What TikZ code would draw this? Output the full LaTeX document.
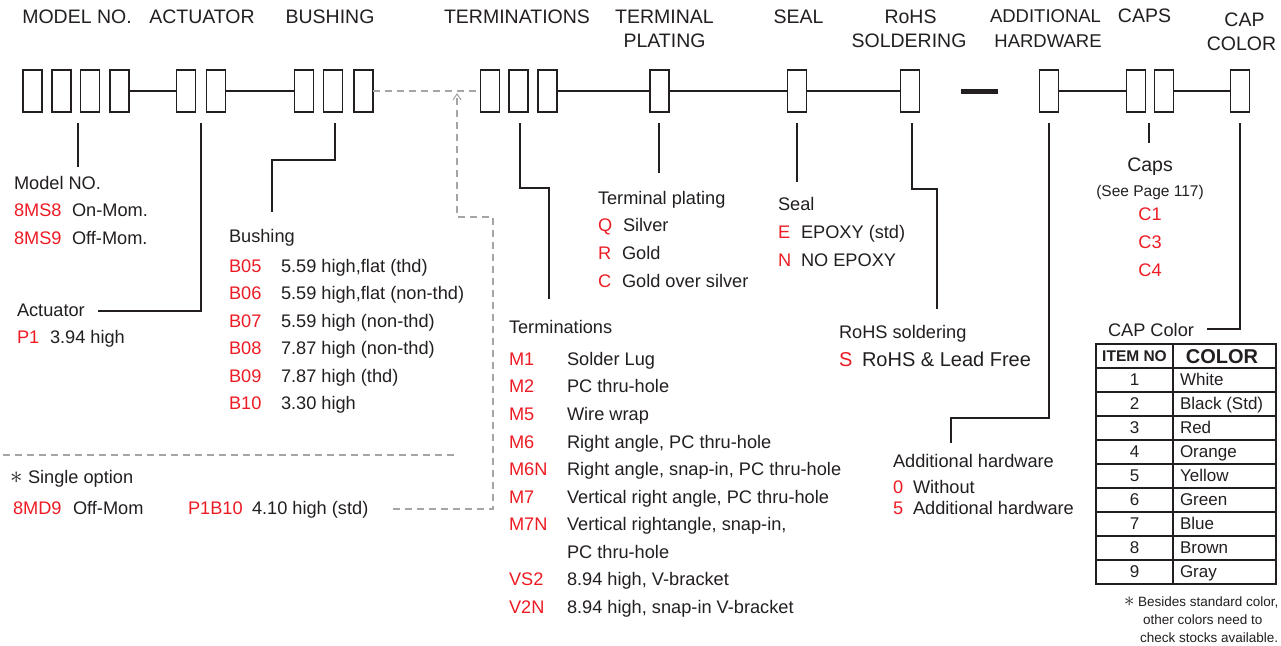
\documentclass[tikz,border=0pt]{standalone}
\usepackage{fontspec}
\setmainfont{Liberation Sans}
\usetikzlibrary{arrows.meta}
\definecolor{ink}{RGB}{35,31,32}
\definecolor{codered}{RGB}{237,28,36}
\definecolor{guidegray}{RGB}{165,165,165}
\begin{document}
\begin{tikzpicture}[x=1pt,y=-1pt,
  every node/.style={inner sep=0pt, outer sep=0pt, text=ink},
  cell/.style={draw=ink, line width=1.8pt, minimum width=19pt, minimum height=42pt},
  link/.style={draw=ink, line width=1.8pt},
  guide/.style={draw=guidegray, line width=1.2pt, dash pattern=on 7pt off 5pt},
  hdr/.style={anchor=base, font=\fontsize{19.5}{21}\selectfont},
  hdrn/.style={anchor=base, font=\fontsize{18.5}{20}\selectfont},
  lbl/.style={anchor=base west, font=\fontsize{18.2}{20}\selectfont},
  code/.style={lbl, text=codered},
  cen/.style={anchor=base, font=\fontsize{18.2}{20}\selectfont},
  big/.style={anchor=base west, font=\fontsize{20}{22}\selectfont},
  note/.style={anchor=base west, font=\fontsize{13.5}{15}\selectfont},
  tline/.style={draw=ink, line width=1.4pt},
  tframe/.style={draw=ink, line width=2pt},
]
\useasboundingbox[fill=white] (0,0) rectangle (1281,645);

% ---------------- headers ----------------
\node[hdr] (hModel) at (77,23) {MODEL NO.};
\node[hdr] (hAct) at (202,23) {ACTUATOR};
\node[hdr] (hBush) at (330,23) {BUSHING};
\node[hdr] (hTerm) at (517,23) {TERMINATIONS};
\node[hdr] (hPlat1) at (664.5,23) {TERMINAL};
\node[hdr] (hPlat2) at (664.5,47) {PLATING};
\node[hdr] (hSeal) at (798.5,23) {SEAL};
\node[hdr] (hRohs1) at (910.5,23) {RoHS};
\node[hdr] (hRohs2) at (909,47) {SOLDERING};
\node[hdrn] (hAdd1) at (1045.5,22) {ADDITIONAL};
\node[hdrn] (hAdd2) at (1048,47) {HARDWARE};
\node[hdr] (hCaps) at (1144.5,22) {CAPS};
\node[hdr] (hCc1) at (1244.5,27) {CAP};
\node[hdr] (hCc2) at (1241.5,50) {COLOR};

% ---------------- code boxes ----------------
\node[cell] (m1) at (32.5,91) {};
\node[cell] (m2) at (61.5,91) {};
\node[cell] (m3) at (90,91) {};
\node[cell] (m4) at (119.5,91) {};
\node[cell] (a1) at (186,91) {};
\node[cell] (a2) at (216,91) {};
\node[cell] (b1) at (304,91) {};
\node[cell] (b2) at (333,91) {};
\node[cell] (b3) at (363.5,91) {};
\node[cell] (t1) at (490,91) {};
\node[cell] (t2) at (518.5,91) {};
\node[cell] (t3) at (547.5,91) {};
\node[cell] (tp) at (659.5,91) {};
\node[cell] (sl) at (797,91) {};
\node[cell] (rh) at (910,91) {};
\node[fill=ink, minimum width=37pt, minimum height=5pt] (dash) at (979.5,91) {};
\node[cell] (ad) at (1049,91) {};
\node[cell] (c1) at (1136,91) {};
\node[cell] (c2) at (1164,91) {};
\node[cell] (cc) at (1240,91) {};

\draw[link] (m4.east) -- (a1.west);
\draw[link] (a2.east) -- (b1.west);
\draw[guide] (b3.east) -- (t1.west);
\draw[link] (t3.east) -- (tp.west);
\draw[link] (tp.east) -- (sl.west);
\draw[link] (sl.east) -- (rh.west);
\draw[link] (ad.east) -- (c1.west);
\draw[link] (c2.east) -- (cc.west);

% ---------------- leader lines ----------------
\coordinate (mdA) at (78,123);   \coordinate (mdB) at (78,167);
\draw[link] (mdA) -- (mdB);
\coordinate (acA) at (201,123);  \coordinate (acB) at (98,311);
\draw[link] (acA) |- (acB);
\coordinate (buA) at (335,123);  \coordinate (buB) at (272,160); \coordinate (buC) at (272,212);
\draw[link] (buA) |- (buB) -- (buC);
\coordinate (teA) at (520,123);  \coordinate (teB) at (549,188); \coordinate (teC) at (549,299);
\draw[link] (teA) |- (teB) -- (teC);
\coordinate (tpA) at (659,123);  \coordinate (tpB) at (659,173);
\draw[link] (tpA) -- (tpB);
\coordinate (slA) at (797,123);  \coordinate (slB) at (797,182);
\draw[link] (slA) -- (slB);
\coordinate (rhA) at (912,123);  \coordinate (rhB) at (937,189); \coordinate (rhC) at (937,309);
\draw[link] (rhA) |- (rhB) -- (rhC);
\coordinate (adA) at (1049,123); \coordinate (adB) at (951,418); \coordinate (adC) at (951,443);
\draw[link] (adA) |- (adB) -- (adC);
\coordinate (cpA) at (1149,123); \coordinate (cpB) at (1149,143);
\draw[link] (cpA) -- (cpB);
\coordinate (ccA) at (1240,123); \coordinate (ccB) at (1207,329);
\draw[link] (ccA) |- (ccB);

% single-option guide
\coordinate (gA) at (393,509);
\coordinate (gB) at (493,217);
\coordinate (gTip) at (457,93);
\draw[guide, -{Straight Barb[length=6pt,width=8pt,line width=1.1pt]}] (gA) -| (gB) -| (gTip);
\coordinate (sepL) at (3,455); \coordinate (sepR) at (455,455);
\draw[guide] (sepL) -- (sepR);

% ---------------- Model NO. ----------------
\node[lbl] (mdT) at (14,189) {Model NO.};
\node[code] (mdC1) at (14,216) {8MS8};
\node[lbl] (mdD1) at (72,216) {On-Mom.};
\node[code] (mdC2) at (14,244) {8MS9};
\node[lbl] (mdD2) at (72,244) {Off-Mom.};

% ---------------- Actuator ----------------
\node[lbl] (acT) at (17,316) {Actuator};
\node[code] (acC1) at (17,343) {P1};
\node[lbl] (acD1) at (50,343) {3.94 high};

% ---------------- Bushing ----------------
\node[lbl] (buT) at (229,242) {Bushing};
\node[code] (buC1) at (229,272) {B05};   \node[lbl] (buD1) at (281,272) {5.59 high,flat (thd)};
\node[code] (buC2) at (229,299.5) {B06}; \node[lbl] (buD2) at (281,299.5) {5.59 high,flat (non-thd)};
\node[code] (buC3) at (229,327) {B07};   \node[lbl] (buD3) at (281,327) {5.59 high (non-thd)};
\node[code] (buC4) at (229,354.5) {B08}; \node[lbl] (buD4) at (281,354.5) {7.87 high (non-thd)};
\node[code] (buC5) at (229,382) {B09};   \node[lbl] (buD5) at (281,382) {7.87 high (thd)};
\node[code] (buC6) at (229,409.5) {B10}; \node[lbl] (buD6) at (281,409.5) {3.30 high};

% ---------------- Single option ----------------
\node[anchor=base west, font=\fontsize{26}{26}\selectfont] (soA) at (10,483) {$\ast$};
\node[lbl] (soT) at (28,483) {Single option};
\node[code] (soC1) at (13,514) {8MD9};
\node[lbl] (soD1) at (73,514) {Off-Mom};
\node[code] (soC2) at (188,514) {P1B10};
\node[lbl] (soD2) at (252,514) {4.10 high (std)};

% ---------------- Terminal plating ----------------
\node[lbl] (tpT) at (598,204) {Terminal plating};
\node[code] (tpC1) at (598,231) {Q}; \node[lbl] (tpD1) at (623,231) {Silver};
\node[code] (tpC2) at (598,259) {R}; \node[lbl] (tpD2) at (622,259) {Gold};
\node[code] (tpC3) at (598,287) {C}; \node[lbl] (tpD3) at (622,287) {Gold over silver};

% ---------------- Seal ----------------
\node[lbl] (slT) at (778,210) {Seal};
\node[code] (slC1) at (778,238) {E}; \node[lbl] (slD1) at (801,238) {EPOXY (std)};
\node[code] (slC2) at (778,266) {N}; \node[lbl] (slD2) at (801,266) {NO EPOXY};

% ---------------- Terminations ----------------
\node[lbl] (teT) at (509,333) {Terminations};
\node[code] (teC1) at (509,365) {M1};  \node[lbl] (teD1) at (567,365) {Solder Lug};
\node[code] (teC2) at (509,392) {M2};  \node[lbl] (teD2) at (567,392) {PC thru-hole};
\node[code] (teC3) at (509,420) {M5};  \node[lbl] (teD3) at (567,420) {Wire wrap};
\node[code] (teC4) at (509,448) {M6};  \node[lbl] (teD4) at (567,448) {Right angle, PC thru-hole};
\node[code] (teC5) at (509,475) {M6N}; \node[lbl] (teD5) at (567,475) {Right angle, snap-in, PC thru-hole};
\node[code] (teC6) at (509,503) {M7};  \node[lbl] (teD6) at (567,503) {Vertical right angle, PC thru-hole};
\node[code] (teC7) at (509,530) {M7N}; \node[lbl] (teD7) at (567,530) {Vertical rightangle, snap-in,};
\node[lbl] (teD7b) at (567,558) {PC thru-hole};
\node[code] (teC8) at (509,585) {VS2}; \node[lbl] (teD8) at (567,585) {8.94 high, V-bracket};
\node[code] (teC9) at (509,613) {V2N}; \node[lbl] (teD9) at (567,613) {8.94 high, snap-in V-bracket};

% ---------------- RoHS ----------------
\node[lbl] (rhT) at (839,338) {RoHS soldering};
\node[big, text=codered] (rhC1) at (839,366) {S};
\node[big] (rhD1) at (862,366) {RoHS \& Lead Free};

% ---------------- Additional hardware ----------------
\node[lbl] (adT) at (893,467) {Additional hardware};
\node[code] (adC1) at (893,493) {0}; \node[lbl] (adD1) at (913,493) {Without};
\node[code] (adC2) at (893,514) {5}; \node[lbl] (adD2) at (913,514) {Additional hardware};

% ---------------- Caps ----------------
\node[anchor=base, font=\fontsize{19.5}{21}\selectfont] (cpT) at (1150,171) {Caps};
\node[anchor=base, font=\fontsize{15.5}{17}\selectfont] (cpS) at (1150,196) {(See Page 117)};
\node[cen, text=codered] (cpC1) at (1150,220) {C1};
\node[cen, text=codered] (cpC2) at (1150,248) {C3};
\node[cen, text=codered] (cpC3) at (1150,276) {C4};

% ---------------- CAP Color table ----------------
\node[lbl] (ccT) at (1108,336) {CAP Color};
\coordinate (tbTL) at (1096,344);
\coordinate (tbBR) at (1276,584);
\foreach \r in {368,392,...,560} {\draw[tline] (1096,\r) -- (1276,\r);}
\draw[tline] (1173,344) -- (1173,584);
\draw[tframe] (tbTL) rectangle (tbBR);
\node[anchor=base, font=\bfseries\fontsize{15.5}{17}\selectfont] (thA) at (1134.5,361.5) {ITEM NO};
\node[anchor=base, font=\bfseries\fontsize{20}{22}\selectfont] (thB) at (1222,363.5) {COLOR};
\foreach \n/\c [count=\k from 0] in {1/White,2/Black (Std),3/Red,4/Orange,5/Yellow,6/Green,7/Blue,8/Brown,9/Gray} {
  \node[anchor=base, font=\fontsize{17}{19}\selectfont] (tn\n) at (1134.5,385+24*\k) {\n};
  \node[anchor=base west, font=\fontsize{17}{19}\selectfont] (tc\n) at (1180,385+24*\k) {\c};
}

% ---------------- footnote ----------------
\node[anchor=base west, font=\fontsize{20}{20}\selectfont] (fnA) at (1124,606) {$\ast$};
\node[note] (fn1) at (1138,606) {Besides standard color,};
\node[note] (fn2) at (1143,624) {other colors need to};
\node[note] (fn3) at (1140,642) {check stocks available.};
\end{tikzpicture}
\end{document}
